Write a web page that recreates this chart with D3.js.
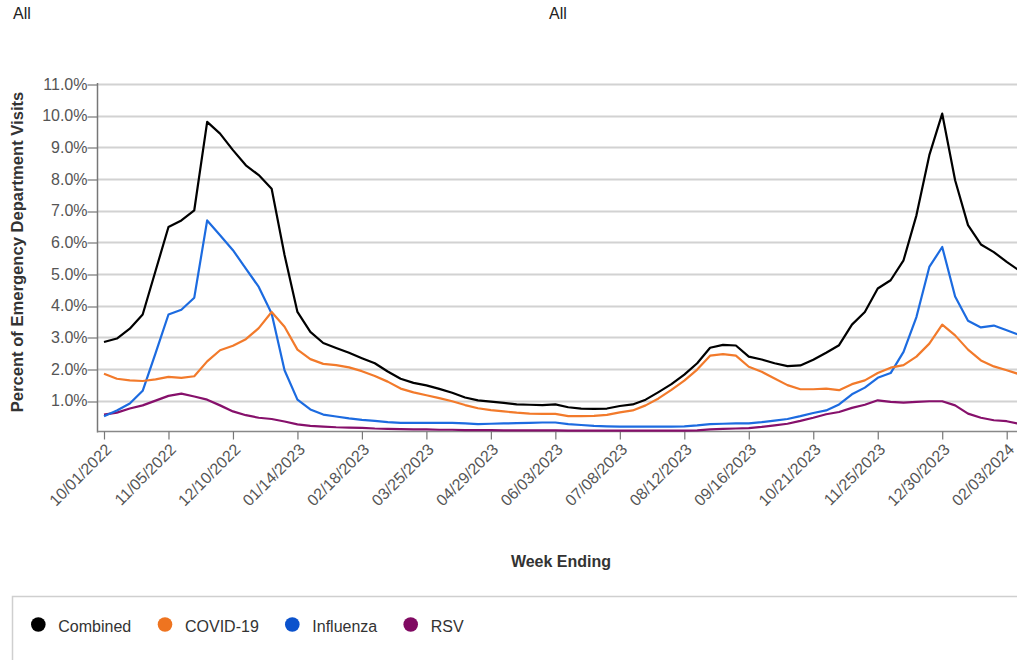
<!DOCTYPE html>
<html>
<head>
<meta charset="utf-8">
<script src="https://cdn.jsdelivr.net/npm/d3@7"></script>
<style>
  html, body { margin: 0; padding: 0; background: #fff; overflow: hidden; }
  svg { display: block; font-family: Arial, "Liberation Sans", sans-serif; }
</style>
</head>
<body>
<svg id="chart" width="1017" height="660"></svg>
<script>
// ---- data ----
const firstWeek = "2022-10-01";
const weekCount = 72;
const tickLabels = ["10/01/2022","11/05/2022","12/10/2022","01/14/2023","02/18/2023","03/25/2023",
  "04/29/2023","06/03/2023","07/08/2023","08/12/2023","09/16/2023","10/21/2023","11/25/2023",
  "12/30/2023","02/03/2024"];
const yTicks = [1,2,3,4,5,6,7,8,9,10,11];
const seriesNames = ["Combined","COVID-19","Influenza","RSV"];
const seriesColors = ["#000000","#f27a2b","#1c6be0","#86106b"];
const legendColors = ["#000000","#ee7420","#0b52cc","#800a62"];

const combined = [2.85,2.96,3.27,3.72,5.10,6.48,6.69,7.01,9.80,9.43,8.91,8.43,8.12,7.69,5.60,3.80,3.17,2.82,
  2.66,2.51,2.34,2.18,1.92,1.69,1.56,1.48,1.37,1.25,1.10,1.01,0.97,0.93,0.88,0.87,0.86,0.88,0.79,0.75,0.74,
  0.75,0.83,0.88,1.03,1.27,1.52,1.82,2.18,2.67,2.76,2.74,2.39,2.30,2.18,2.09,2.11,2.29,2.51,2.75,3.40,3.80,
  4.54,4.80,5.43,6.85,8.75,10.06,7.96,6.54,5.93,5.69,5.38,5.10];
const covid = [1.85,1.69,1.64,1.62,1.67,1.75,1.72,1.77,2.24,2.59,2.73,2.94,3.29,3.80,3.33,2.61,2.31,2.16,
  2.12,2.05,1.93,1.78,1.60,1.38,1.26,1.17,1.08,0.98,0.86,0.76,0.70,0.66,0.62,0.59,0.58,0.58,0.51,0.51,0.52,
  0.55,0.63,0.69,0.85,1.07,1.34,1.63,1.98,2.42,2.47,2.42,2.07,1.91,1.70,1.49,1.36,1.36,1.38,1.33,1.52,1.64,
  1.87,2.04,2.12,2.39,2.80,3.40,3.06,2.61,2.27,2.08,1.96,1.83];
const influenza = [0.51,0.69,0.91,1.31,2.50,3.72,3.87,4.25,6.69,6.22,5.75,5.17,4.59,3.75,1.96,1.03,0.72,0.56,
  0.50,0.44,0.39,0.36,0.32,0.30,0.30,0.30,0.30,0.30,0.28,0.26,0.27,0.28,0.29,0.30,0.31,0.31,0.26,0.23,0.20,
  0.19,0.18,0.18,0.18,0.18,0.18,0.19,0.22,0.26,0.27,0.28,0.28,0.32,0.37,0.42,0.51,0.61,0.69,0.88,1.20,1.41,
  1.72,1.87,2.54,3.64,5.22,5.85,4.29,3.52,3.31,3.37,3.22,3.07];
const rsv = [0.56,0.62,0.75,0.85,1.00,1.15,1.22,1.13,1.03,0.85,0.66,0.54,0.46,0.42,0.34,0.25,0.20,0.18,
  0.16,0.15,0.14,0.12,0.11,0.10,0.09,0.09,0.08,0.08,0.07,0.07,0.07,0.06,0.06,0.06,0.06,0.06,0.05,0.05,0.05,
  0.05,0.05,0.05,0.05,0.05,0.05,0.05,0.06,0.09,0.11,0.12,0.13,0.17,0.22,0.27,0.36,0.46,0.57,0.64,0.77,0.87,
  1.01,0.96,0.94,0.96,0.98,0.98,0.85,0.59,0.46,0.38,0.35,0.26];
const seriesValues = [combined, covid, influenza, rsv];

// ---- setup ----
const svg = d3.select("#chart");
const parseISO = d3.utcParse("%Y-%m-%d");
const parseTick = d3.utcParse("%m/%d/%Y");
const start = parseISO(firstWeek);
const weeks = d3.range(weekCount).map(i => d3.utcDay.offset(start, 7 * i));

const x = d3.scaleUtc()
  .domain([parseTick("10/01/2022"), parseTick("02/03/2024")])
  .range([104, 1006.7]);
const y = d3.scaleLinear().domain([0, 11]).range([432.3, 83.9]);
const axisLeftX = 97.5, axisBottomY = 431.5, rightEdge = 1017;

// gridlines
svg.append("g").selectAll("line").data(yTicks).join("line")
  .attr("x1", axisLeftX).attr("x2", rightEdge)
  .attr("y1", d => Math.round(y(d)) + 0.5).attr("y2", d => Math.round(y(d)) + 0.5)
  .attr("stroke", "#d2d2d2").attr("stroke-width", 2);

// y axis
const yAxis = d3.axisLeft(y).tickValues(yTicks).tickSize(10).tickSizeOuter(0)
  .tickFormat(d => d3.format(".1f")(d) + "%");
const gy = svg.append("g").attr("transform", `translate(${axisLeftX},0)`).call(yAxis);
gy.select(".domain").remove();
gy.selectAll(".tick line").attr("stroke", "#777").attr("stroke-width", 1.2)
  .attr("transform", d => `translate(0,${Math.round(y(d)) + 0.5 - y(d)})`);
gy.selectAll(".tick text").attr("x", -10).attr("fill", "#555")
  .style("font-size", "16px").style("font-family", "Arial, 'Liberation Sans', sans-serif");
svg.append("line").attr("x1", axisLeftX).attr("x2", axisLeftX)
  .attr("y1", 83).attr("y2", axisBottomY + 1).attr("stroke", "#777").attr("stroke-width", 1.5);

// x axis
const tickDates = tickLabels.map(parseTick);
svg.append("line").attr("x1", axisLeftX).attr("x2", rightEdge)
  .attr("y1", axisBottomY).attr("y2", axisBottomY).attr("stroke", "#888").attr("stroke-width", 1.5);
const xAxis = d3.axisBottom(x).tickValues(tickDates).tickSize(8).tickSizeOuter(0)
  .tickFormat(d3.utcFormat("%m/%d/%Y"));
const gx = svg.append("g").attr("transform", `translate(0,${axisBottomY})`).call(xAxis);
gx.select(".domain").remove();
gx.selectAll(".tick line").attr("stroke", "#777").attr("stroke-width", 1.2);
gx.selectAll(".tick text")
  .attr("y", 0).attr("dy", 0)
  .attr("text-anchor", "end")
  .attr("transform", "translate(8,19) rotate(-45)")
  .attr("fill", "#555")
  .style("font-size", "16px").style("font-family", "Arial, 'Liberation Sans', sans-serif");

// lines
const line = d3.line().x((d, i) => x(weeks[i])).y(d => y(d));
const drawOrder = [3, 2, 1, 0];
svg.append("g").selectAll("path").data(drawOrder).join("path")
  .attr("d", k => line(seriesValues[k]))
  .attr("fill", "none")
  .attr("stroke", k => seriesColors[k])
  .attr("stroke-width", 2.2)
  .attr("stroke-linejoin", "round");

// titles
svg.append("text").attr("x", 13).attr("y", 19).text("All")
  .attr("fill", "#222").style("font-size", "16px");
svg.append("text").attr("x", 549).attr("y", 19).text("All")
  .attr("fill", "#222").style("font-size", "16px");
svg.append("text")
  .attr("transform", "translate(23,252) rotate(-90)")
  .attr("text-anchor", "middle")
  .attr("fill", "#333").style("font-size", "16.6px").style("font-weight", "bold")
  .text("Percent of Emergency Department Visits");
svg.append("text").attr("x", 561).attr("y", 567).attr("text-anchor", "middle")
  .attr("fill", "#333").style("font-size", "16px").style("font-weight", "bold")
  .text("Week Ending");

// legend
svg.append("rect").attr("x", 12.5).attr("y", 596.5).attr("width", 1100).attr("height", 100)
  .attr("fill", "none").attr("stroke", "#cfcfcf").attr("stroke-width", 1.5);
const legendX = [38.3, 165, 292.3, 410.7];
const lg = svg.append("g").selectAll("g").data(seriesNames).join("g")
  .attr("transform", (d, i) => `translate(${legendX[i]},624.5)`);
lg.append("circle").attr("r", 7.3).attr("fill", (d, i) => legendColors[i]);
lg.append("text").attr("x", 20).attr("y", 7.5).text(d => d)
  .attr("fill", "#333").style("font-size", "16px");
</script>
</body>
</html>
